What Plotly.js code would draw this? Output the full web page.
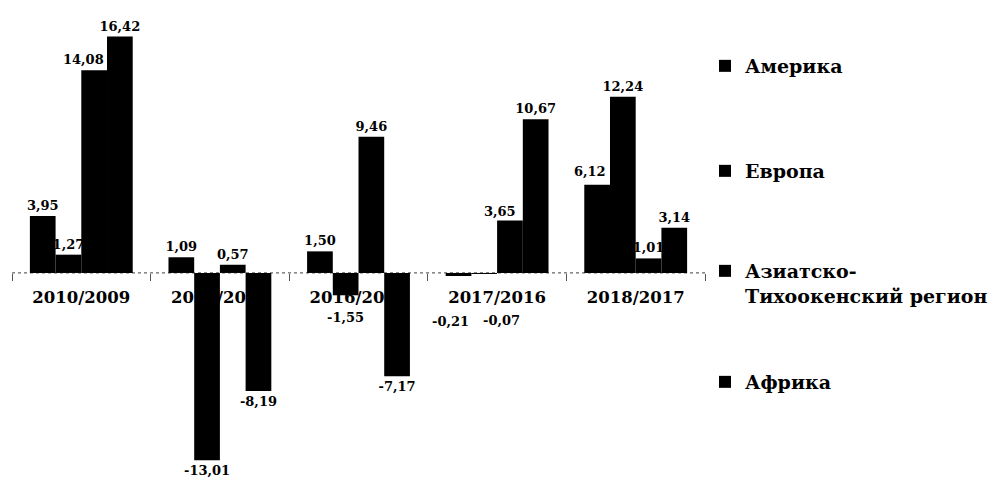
<!DOCTYPE html>
<html>
<head>
<meta charset="utf-8">
<script src="https://cdn.plot.ly/plotly-3.0.1.min.js"></script>
<style>
  html, body { margin: 0; padding: 0; background: #fff; }
  #chart { width: 996px; height: 481px; }
</style>
</head>
<body>
<div id="chart"></div>
<script>
// ---- data ----
const categories = ["2010/2009", "2015/2014", "2016/2015", "2017/2016", "2018/2017"];
const seriesNames = ["Америка", "Европа", "Азиатско-<br>Тихоокенский регион", "Африка"];
const america = [3.95, 1.09, 1.50, -0.21, 6.12];
const europe  = [1.27, -13.01, -1.55, -0.07, 12.24];
const asia    = [14.08, 0.57, 9.46, 3.65, 1.01];
const africa  = [16.42, -8.19, -7.17, 10.67, 3.14];
const seriesValues = [america, europe, asia, africa];

// ---- styling ----
const FONT = "DejaVu Serif, Liberation Serif, serif";
const legendIds = ["legend", "legend2", "legend3", "legend4"];
const legendY = [66, 171, 252, 382]; // container pixel positions

function fmt(v) { return v.toFixed(2).replace(".", ","); }

// labels placed off their default spot in the source: [series index, category index, xshift, yshift]
const moved = [
  [0, 3, -47, -46], [1, 3, 4, -47], [1, 2, -13, -22],
  [2, 0, 2, 11], [0, 4, -46, 13], [2, 3, 3, 9]
];
const isMoved = (s, c) => moved.some(l => l[0] === s && l[1] === c);

const traces = seriesValues.map((vals, i) => ({
  type: "bar",
  name: seriesNames[i],
  x: categories,
  y: vals,
  legend: legendIds[i],
  marker: { color: "#000", line: { width: 0 } },
  texttemplate: "%{y:.2f}",
  textposition: vals.map((v, j) => isMoved(i, j) ? "none" : "outside"),
  constraintext: "none",
  cliponaxis: false,
  textfont: { family: FONT, size: 13, color: "#000", weight: 700 },
  hoverinfo: "skip"
}));

const annotations = moved.map(([s, c, dx, dy]) => ({
  xref: "x", yref: "y",
  x: categories[c], y: seriesValues[s][c],
  text: fmt(seriesValues[s][c]),
  showarrow: false,
  xshift: dx, yshift: dy,
  font: { family: FONT, size: 13, color: "#000", weight: 700 }
}));

function legendAt(py, valign) {
  return {
    xref: "container", yref: "container",
    x: 705 / 996, y: 1 - py / 481,
    xanchor: "left", yanchor: valign === "top" ? "top" : "middle",
    valign: "top",
    bgcolor: "rgba(0,0,0,0)", borderwidth: 0,
    font: { family: FONT, size: 19, color: "#000", weight: 700 },
    itemclick: false, itemdoubleclick: false
  };
}

const layout = {
  width: 996, height: 481,
  margin: { l: 12, r: 290, t: 10, b: 6 },
  paper_bgcolor: "#fff", plot_bgcolor: "#fff",
  barmode: "group", bargap: 0.258, bargroupgap: 0,
  separators: ", ",
  showlegend: true,
  legend: legendAt(legendY[0]),
  legend2: legendAt(legendY[1]),
  legend3: legendAt(legendY[2], "top"),
  legend4: legendAt(legendY[3]),
  annotations: annotations,
  xaxis: {
    type: "category",
    anchor: "free", position: 14.03 / 32.29,
    layer: "below traces",
    showline: false, showgrid: false, zeroline: false,
    ticks: "outside", tickson: "boundaries", ticklen: 7, tickwidth: 1, tickcolor: "#555",
    ticklabelstandoff: 13,
    tickfont: { family: FONT, size: 16.5, color: "#000", weight: 700 },
    fixedrange: true
  },
  yaxis: {
    range: [-14.03, 18.26],
    visible: false, showgrid: false, zeroline: false,
    fixedrange: true
  },
  shapes: [{
    type: "line", xref: "paper", yref: "y",
    x0: 0, x1: 1, y0: 0, y1: 0,
    line: { color: "#666", width: 1.2, dash: "dot" },
    layer: "below"
  }]
};

Plotly.newPlot("chart", traces, layout, { displayModeBar: false, staticPlot: true });
</script>
</body>
</html>
